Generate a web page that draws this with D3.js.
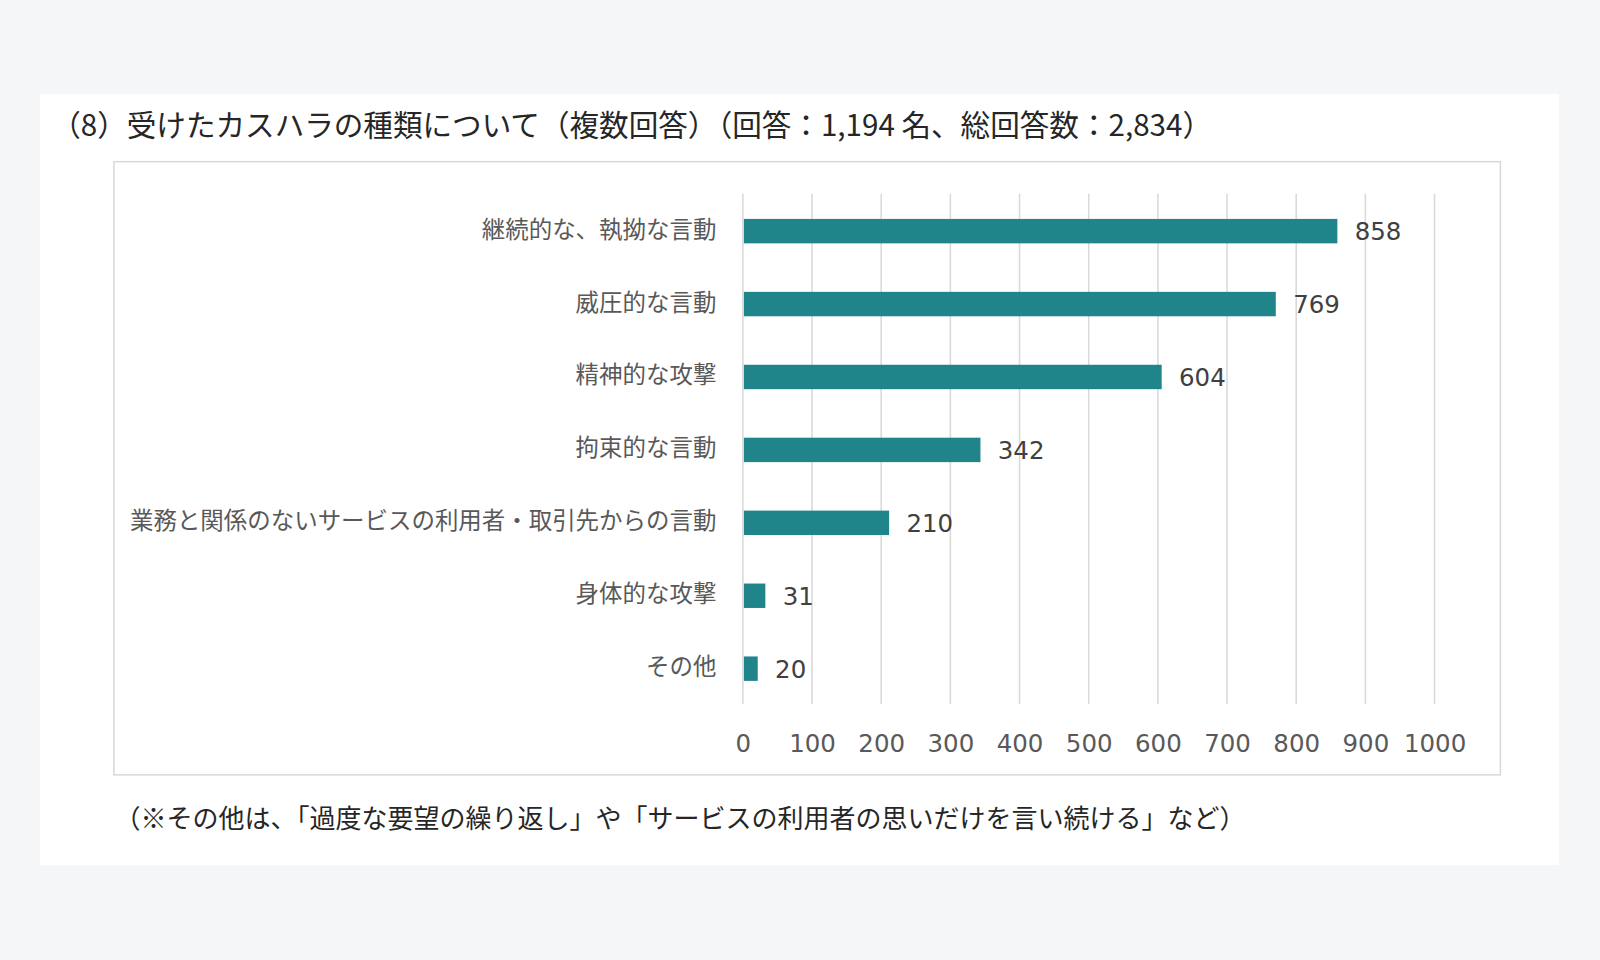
<!DOCTYPE html>
<html lang="ja">
<head>
<meta charset="UTF-8">
<script src="https://d3js.org/d3.v7.min.js"></script>
<style>
  body { margin: 0; background: #f5f6f8; overflow: hidden; }
  svg { display: block; }
  svg text { font-family: "Noto Sans CJK JP", "Noto Sans", sans-serif; }
</style>
</head>
<body>
<script>
    var categories = [
        "継続的な、執拗な言動",
        "威圧的な言動",
        "精神的な攻撃",
        "拘束的な言動",
        "業務と関係のないサービスの利用者・取引先からの言動",
        "身体的な攻撃",
        "その他"
    ];
    var counts = [858, 769, 604, 342, 210, 31, 20];
    var tickValues = [0, 100, 200, 300, 400, 500, 600, 700, 800, 900, 1000];
    var titleText = "（8）受けたカスハラの種類について（複数回答）（回答：1,194 名、総回答数：2,834）";
    var noteText = "（※その他は、「過度な要望の繰り返し」や「サービスの利用者の思いだけを言い続ける」など）";

    var numFont = "'DejaVu Sans', Verdana, sans-serif";

    // drawn in a 1568x941 space, stretched to the 1600x960 window
    var svg = d3.select("body").append("svg")
        .attr("width", 1600)
        .attr("height", 960)
        .attr("viewBox", "0 0 1568 941");

    svg.append("rect")
        .attr("width", 1568).attr("height", 941)
        .attr("fill", "#f5f6f8");

    // white panel
    svg.append("rect")
        .attr("x", 39).attr("y", 92)
        .attr("width", 1489).attr("height", 756)
        .attr("fill", "#ffffff");

    svg.append("text")
        .attr("x", 50).attr("y", 133)
        .attr("font-size", "29px")
        .attr("fill", "#262626")
        .text(titleText);

    // chart frame
    svg.append("rect")
        .attr("x", 111.5).attr("y", 158.5)
        .attr("width", 1359).attr("height", 601)
        .attr("fill", "#ffffff")
        .attr("stroke", "#d9d9d9")
        .attr("stroke-width", 1.5);

    var x = d3.scaleLinear().domain([0, 1000]).range([728, 1406]);
    var y = d3.scaleBand().domain(categories).range([190, 690]).paddingInner(0.665).paddingOuter(0.33);

    // gridlines
    svg.append("g").selectAll("line")
        .data(tickValues)
        .enter().append("line")
        .attr("x1", function (d) { return x(d); })
        .attr("x2", function (d) { return x(d); })
        .attr("y1", 190).attr("y2", 690)
        .attr("stroke", "#d9d9d9")
        .attr("stroke-width", 1.5);

    // x axis labels
    var xAxis = d3.axisBottom(x).tickValues(tickValues).tickFormat(d3.format("d")).tickSize(0).tickPadding(0);
    var gx = svg.append("g").attr("transform", "translate(0,737)").call(xAxis);
    gx.select(".domain").remove();
    gx.selectAll("text")
        .attr("dy", 0)
        .attr("font-size", "24px")
        .attr("fill", "#595959")
        .style("font-family", numFont);

    // category labels
    var yAxis = d3.axisLeft(y).tickSize(0).tickPadding(0);
    var gy = svg.append("g").attr("transform", "translate(702,0)").call(yAxis);
    gy.select(".domain").remove();
    gy.selectAll("text")
        .attr("font-size", "23px")
        .attr("fill", "#595959")
        .style("font-family", "'Noto Sans CJK JP', sans-serif");

    // bars
    svg.append("g").selectAll("rect")
        .data(counts)
        .enter().append("rect")
        .attr("x", x(0) + 1)
        .attr("y", function (d, i) { return y(categories[i]) + 1; })
        .attr("width", function (d) { return x(d) - x(0); })
        .attr("height", y.bandwidth())
        .attr("fill", "#20858a");

    // value labels
    svg.append("g").selectAll("text")
        .data(counts)
        .enter().append("text")
        .attr("x", function (d) { return x(d) + 18; })
        .attr("y", function (d, i) { return y(categories[i]) + y.bandwidth() / 2 + 10; })
        .attr("font-size", "24px")
        .attr("fill", "#404040")
        .style("font-family", numFont)
        .text(function (d) { return d; });

    svg.append("text")
        .attr("x", 112).attr("y", 812)
        .attr("font-size", "25.5px")
        .attr("fill", "#262626")
        .text(noteText);
</script>
</body>
</html>
